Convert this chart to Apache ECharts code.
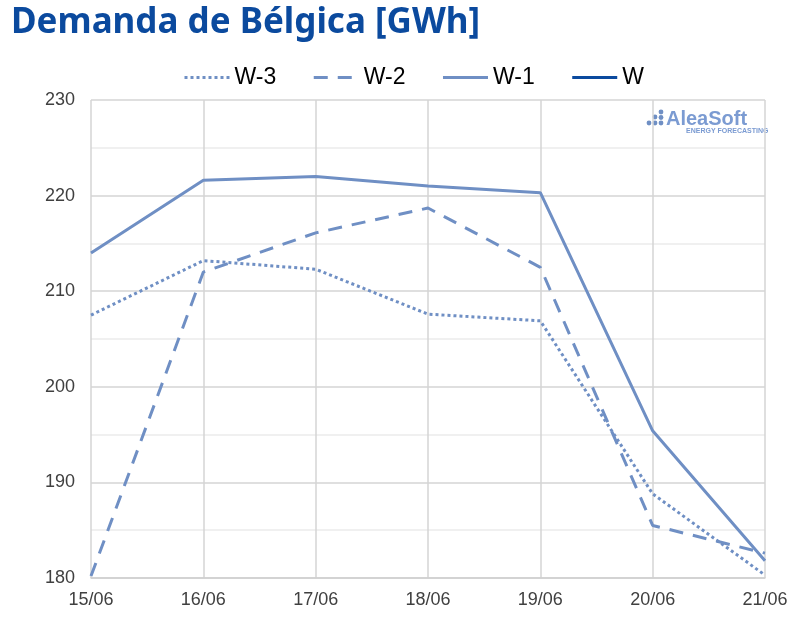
<!DOCTYPE html>
<html>
<head>
<meta charset="utf-8">
<script src="https://cdn.jsdelivr.net/npm/echarts@6/dist/echarts.min.js"></script>
<style>
  html, body { margin: 0; padding: 0; background: #fff; }
  #chart { width: 805px; height: 624px; }
</style>
</head>
<body>
<div id="chart"></div>
<script>
const days = ['15/06', '16/06', '17/06', '18/06', '19/06', '20/06', '21/06']
const w3 = [207.5, 213.2, 212.3, 207.6, 206.9, 188.8, 180.3]
const w2 = [180.2, 212.0, 216.1, 218.7, 212.5, 185.5, 182.6]
const w1 = [214.0, 221.6, 222.0, 221.0, 220.3, 195.4, 181.8]
const w0 = []

const lineColor = '#6f8fc4'
const darkBlue = '#0b4a9e'

let chart = echarts.init(document.getElementById('chart'))

chart.setOption({
  animation: false,
  title: {
    text: 'Demanda de Bélgica [GWh]',
    left: 6,
    top: 1,
    textStyle: {
      color: darkBlue,
      fontFamily: 'Noto Sans',
      fontWeight: 'bold',
      fontSize: 35
    }
  },
  legend: {
    left: 178,
    top: 61,
    itemWidth: 45,
    itemHeight: 14,
    itemGap: 36,
    itemStyle: { opacity: 0 },
    lineStyle: { width: 3 },
    textStyle: { color: '#000', fontSize: 23, fontFamily: 'Liberation Sans' },
    data: ['W-3', 'W-2', 'W-1', 'W']
  },
  grid: { left: 91, right: 40, top: 100, bottom: 46 },
  xAxis: {
    type: 'category',
    data: days,
    boundaryGap: false,
    axisLine: { lineStyle: { color: '#d0d0d0', width: 1.5 } },
    axisTick: { show: false },
    axisLabel: { color: '#404040', fontSize: 18, fontFamily: 'Liberation Sans', margin: 13 },
    splitLine: { show: true, lineStyle: { color: '#d4d4d4', width: 1.5 } }
  },
  yAxis: {
    type: 'value',
    min: 180,
    max: 230,
    interval: 10,
    axisLine: { show: false },
    axisTick: { show: false },
    axisLabel: { color: '#404040', fontSize: 18, fontFamily: 'Liberation Sans', margin: 16 },
    splitLine: { lineStyle: { color: '#d4d4d4', width: 1.5 } },
    minorTick: { show: false, splitNumber: 2 },
    minorSplitLine: { show: true, lineStyle: { color: '#ececec', width: 1.5 } }
  },
  graphic: [
    { type: 'circle', shape: { cx: 649, cy: 123, r: 2.4 }, style: { fill: lineColor } },
    { type: 'circle', shape: { cx: 655, cy: 123, r: 2.4 }, style: { fill: lineColor } },
    { type: 'circle', shape: { cx: 655, cy: 117, r: 2.4 }, style: { fill: lineColor } },
    { type: 'circle', shape: { cx: 661, cy: 123, r: 2.4 }, style: { fill: lineColor } },
    { type: 'circle', shape: { cx: 661, cy: 117.5, r: 2.4 }, style: { fill: lineColor } },
    { type: 'circle', shape: { cx: 661, cy: 112, r: 2.4 }, style: { fill: lineColor } },
    {
      type: 'text', left: 666, top: 109,
      style: { text: 'AleaSoft', fill: '#7b9bd2', font: 'bold 20px Liberation Sans' }
    },
    {
      type: 'text', left: 686, top: 128,
      style: { text: 'ENERGY FORECASTING', fill: '#7b9bd2', font: 'bold 7px Liberation Sans' }
    }
  ],
  series: [
    {
      name: 'W-3', type: 'line', data: w3, symbol: 'none',
      itemStyle: { color: lineColor },
      lineStyle: { color: lineColor, width: 3, type: [3, 3] }
    },
    {
      name: 'W-2', type: 'line', data: w2, symbol: 'none',
      itemStyle: { color: lineColor },
      lineStyle: { color: lineColor, width: 3, type: [14, 10] }
    },
    {
      name: 'W-1', type: 'line', data: w1, symbol: 'none',
      itemStyle: { color: lineColor },
      lineStyle: { color: lineColor, width: 3 }
    },
    {
      name: 'W', type: 'line', data: w0, symbol: 'none',
      itemStyle: { color: darkBlue },
      lineStyle: { color: darkBlue, width: 4 }
    }
  ]
})
</script>
</body>
</html>
